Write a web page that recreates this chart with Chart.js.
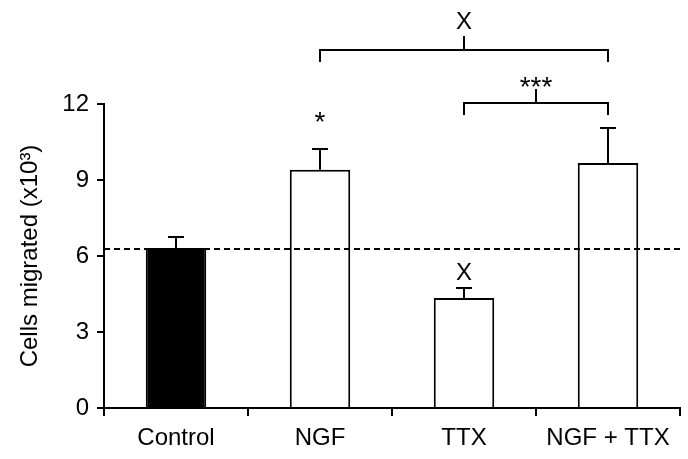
<!DOCTYPE html>
<html>
<head>
<meta charset="UTF-8">
<title>Cells migrated</title>
<script src="https://cdn.jsdelivr.net/npm/chart.js"></script>
<style>
  body { margin: 0; background: #fff; }
  #wrap { width: 688px; height: 459px; }
</style>
</head>
<body>
<div id="wrap"><canvas id="chart" width="688" height="459"></canvas></div>
<script>
  const categories = ['Control', 'NGF', 'TTX', 'NGF + TTX'];
  const means = [6.32, 9.4, 4.34, 9.67];
  const errors = [0.43, 0.82, 0.4, 1.38];
  const fills = ['#000', '#fff', '#fff', '#fff'];
  const yTicks = [0, 3, 6, 9, 12];
  const baseline = 6.28; // control level, dashed

  // significance marks above single bars: [category index, text, baseline value]
  const barMarks = [[1, '*', 10.94], [2, 'X', 5.05]];
  // brackets: from, to, level, text, text baseline
  const bracketFrom = [1, 2];
  const bracketTo = [3, 3];
  const bracketLevel = [14.13, 12.04];
  const bracketText = ['X', '***'];
  const bracketTextY = [14.96, 12.32];

  const font = "'Liberation Sans', Arial, sans-serif";
  const markFont = t => (t === 'X' ? '24px ' : '28px ') + font;

  const extras = {
    id: 'extras',
    afterDatasetsDraw(chart) {
      const c = chart.ctx, y = chart.scales.y;
      const meta = chart.getDatasetMeta(0);
      c.save();
      c.strokeStyle = '#000';
      c.lineWidth = 2;
      // error bars
      meta.data.forEach((bar, i) => {
        const top = y.getPixelForValue(means[i] + errors[i]);
        c.beginPath();
        c.moveTo(bar.x, y.getPixelForValue(means[i]));
        c.lineTo(bar.x, top);
        c.moveTo(bar.x - 8, top);
        c.lineTo(bar.x + 8, top);
        c.stroke();
      });
      // dashed control line
      c.setLineDash([6, 4]);
      c.beginPath();
      const yb = y.getPixelForValue(baseline);
      c.moveTo(chart.chartArea.left, yb);
      c.lineTo(chart.chartArea.right, yb);
      c.stroke();
      c.setLineDash([]);
      // brackets
      c.fillStyle = '#000';
      c.textAlign = 'center';
      c.textBaseline = 'alphabetic';
      bracketFrom.forEach((f, i) => {
        const x1 = meta.data[f].x, x2 = meta.data[bracketTo[i]].x;
        const yl = y.getPixelForValue(bracketLevel[i]);
        const xm = (x1 + x2) / 2;
        c.beginPath();
        c.moveTo(x1, yl + 12);
        c.lineTo(x1, yl);
        c.lineTo(x2, yl);
        c.lineTo(x2, yl + 12);
        c.moveTo(xm, yl);
        c.lineTo(xm, yl - 14);
        c.stroke();
        c.font = markFont(bracketText[i]);
        c.fillText(bracketText[i], xm, y.getPixelForValue(bracketTextY[i]));
      });
      barMarks.forEach(([i, t, v]) => {
        c.font = markFont(t);
        c.fillText(t, meta.data[i].x, y.getPixelForValue(v));
      });
      c.restore();
    }
  };

  new Chart(document.getElementById('chart'), {
    type: 'bar',
    data: {
      labels: categories,
      datasets: [{
        data: means,
        backgroundColor: fills,
        borderColor: '#000',
        borderWidth: 2,
        barPercentage: 0.42,
        categoryPercentage: 1
      }]
    },
    options: {
      responsive: false,
      animation: false,
      layout: { padding: { top: 104, right: 8, left: 0, bottom: 0 } },
      plugins: { legend: { display: false }, tooltip: { enabled: false } },
      scales: {
        x: {
          offset: true,
          grid: { offset: true, drawOnChartArea: false, color: '#000', lineWidth: 2, tickLength: 8 },
          border: { color: '#000', width: 2 },
          ticks: { color: '#000', font: { family: font, size: 24 }, padding: 8 },
          afterFit(s) { s.height = 51; }
        },
        y: {
          min: 0,
          max: 12,
          afterBuildTicks(s) { s.ticks = yTicks.map(v => ({ value: v })); },
          grid: { drawOnChartArea: false, color: '#000', lineWidth: 2, tickLength: 7 },
          border: { color: '#000', width: 2 },
          ticks: { color: '#000', font: { family: font, size: 24 }, padding: 8 },
          title: { display: true, text: 'Cells migrated (x10³)', color: '#000', font: { family: font, size: 24 }, padding: { top: 16, bottom: 0 } },
          afterFit(s) { s.width = 104; }
        }
      }
    },
    plugins: [extras]
  });
</script>
</body>
</html>
